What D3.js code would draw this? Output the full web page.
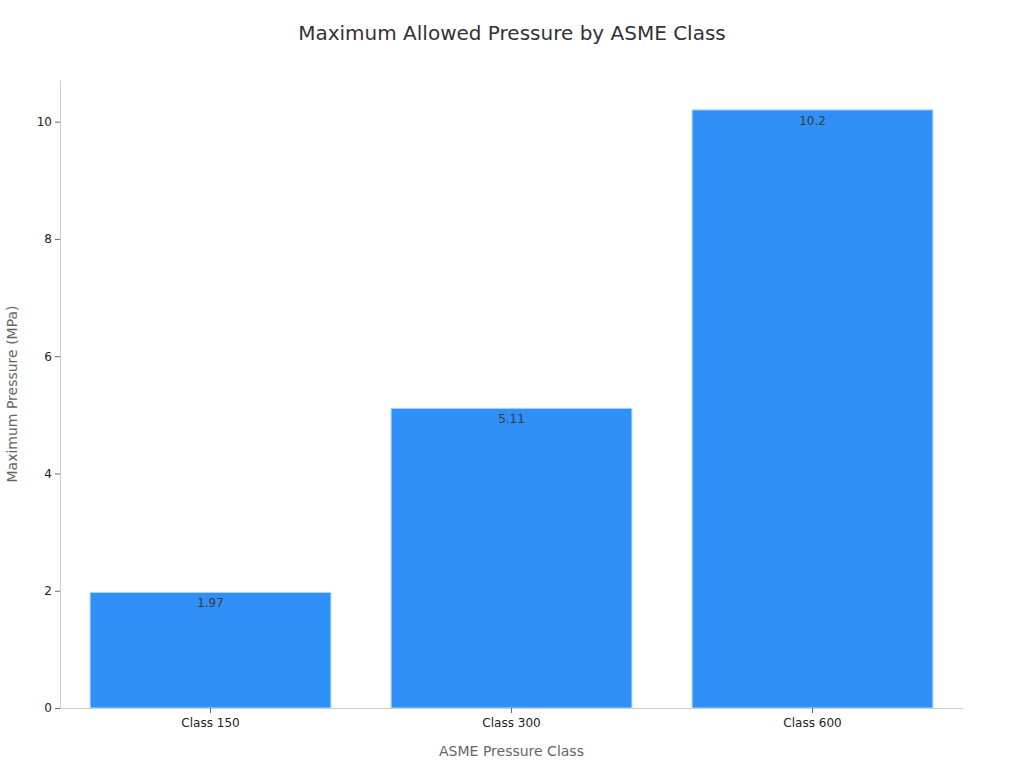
<!DOCTYPE html>
<html>
<head>
<meta charset="utf-8">
<script src="https://cdn.jsdelivr.net/npm/d3@7"></script>
<style>
  body { margin: 0; background: #fff; }
  svg { font-family: "DejaVu Sans", sans-serif; }
</style>
</head>
<body>
<svg></svg>
<script>
let classes = ['Class 150', 'Class 300', 'Class 600'];
let pressures = [1.97, 5.11, 10.2];
let yTicks = [0, 2, 4, 6, 8, 10];

let width = 1024;
let height = 768;
let margin = {top: 80, right: 61, bottom: 60, left: 60};

let svg = d3.select('svg')
    .attr('width', width)
    .attr('height', height);

/*scales*/
let xScale = d3.scaleBand()
    .domain(classes)
    .range([margin.left, width - margin.right])
    .paddingInner(0.2)
    .paddingOuter(0.1);

let yScale = d3.scaleLinear()
    .domain([0, d3.max(pressures) * 1.05])
    .range([height - margin.bottom, margin.top]);

/*bars*/
svg.selectAll('rect.bar')
    .data(pressures)
    .enter()
    .append('rect')
    .attr('class', 'bar')
    .attr('x', (d, i) => xScale(classes[i]))
    .attr('y', (d) => yScale(d))
    .attr('width', xScale.bandwidth())
    .attr('height', (d) => yScale(0) - yScale(d))
    .attr('fill', '#2f91f8')
    .attr('stroke', '#a9d5fb')
    .attr('stroke-width', 1);

/*value labels*/
svg.selectAll('text.value')
    .data(pressures)
    .enter()
    .append('text')
    .attr('class', 'value')
    .attr('x', (d, i) => xScale(classes[i]) + xScale.bandwidth() / 2)
    .attr('y', (d) => yScale(d) + 15)
    .attr('text-anchor', 'middle')
    .attr('font-size', 12)
    .attr('fill', '#3a3a3a')
    .text((d) => d);

/*axes*/
let xAxis = d3.axisBottom(xScale).tickSize(5).tickSizeOuter(0);
let yAxis = d3.axisLeft(yScale).tickValues(yTicks).tickSize(5).tickSizeOuter(0);

let gx = svg.append('g')
    .attr('transform', 'translate(0, ' + (height - margin.bottom) + ')')
    .call(xAxis);

let gy = svg.append('g')
    .attr('transform', 'translate(' + margin.left + ', 0)')
    .call(yAxis);

[gx, gy].forEach((g) => {
    g.select('.domain').attr('stroke', '#ccc');
    g.selectAll('.tick line').attr('stroke', '#666');
    g.selectAll('.tick text')
        .attr('font-size', 12)
        .attr('fill', '#222')
        .style('font-family', '"DejaVu Sans", sans-serif');
});
gx.selectAll('.tick text').attr('dy', '0.95em');

/*titles*/
svg.append('text')
    .attr('x', width / 2)
    .attr('y', 40)
    .attr('text-anchor', 'middle')
    .attr('font-size', 20)
    .attr('fill', '#333')
    .text('Maximum Allowed Pressure by ASME Class');

svg.append('text')
    .attr('x', (margin.left + width - margin.right) / 2)
    .attr('y', 756)
    .attr('text-anchor', 'middle')
    .attr('font-size', 14)
    .attr('fill', '#666')
    .text('ASME Pressure Class');

svg.append('text')
    .attr('transform', 'translate(17, ' + ((margin.top + height - margin.bottom) / 2) + ') rotate(-90)')
    .attr('text-anchor', 'middle')
    .attr('font-size', 14)
    .attr('fill', '#666')
    .text('Maximum Pressure (MPa)');
</script>
</body>
</html>
